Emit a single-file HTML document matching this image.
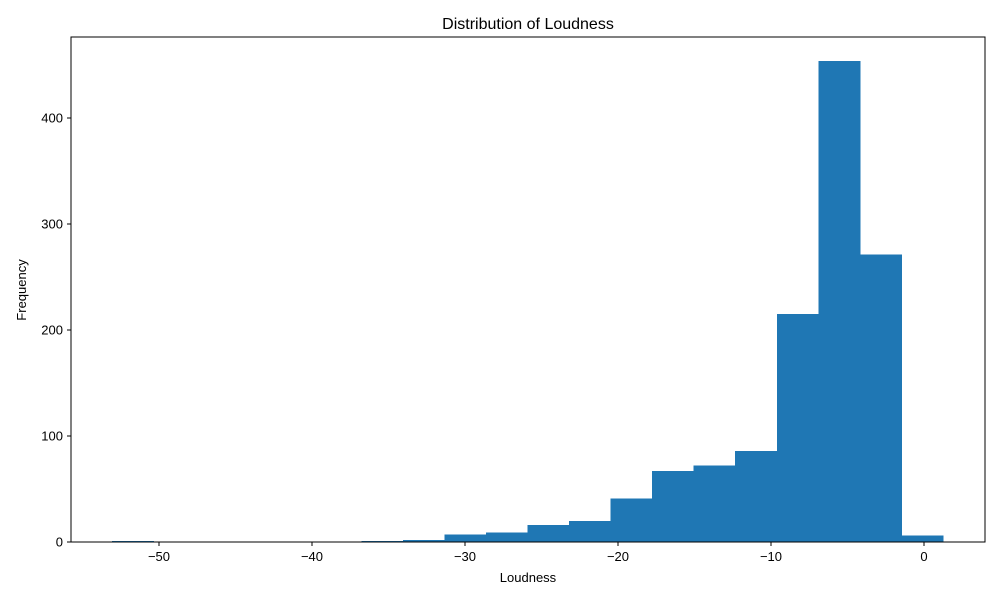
<!DOCTYPE html>
<html><head><meta charset="utf-8"><style>
body{margin:0;background:#fff;font-family:"Liberation Sans",sans-serif;}
svg text{font-family:"Liberation Sans",sans-serif;fill:#000;}
</style></head><body>
<svg id="c" width="1000" height="600">
<rect width="1000" height="600" fill="#fff"/>
<text x="528" y="29" font-size="16" text-anchor="middle">Distribution of Loudness</text>
<g id="bars" shape-rendering="crispEdges"></g>
<rect x="71" y="37" width="914" height="505" fill="none" stroke="#000" stroke-width="1"/>
<g id="xt"></g><g id="yt"></g>
<text x="528" y="582" font-size="13" text-anchor="middle">Loudness</text>
<text x="26" y="290" font-size="13" text-anchor="middle" transform="rotate(-90 26 290)">Frequency</text>
</svg>
<script>
const binStart = -53.07;
const binWidth = 2.7155;
const counts = [1,0,0,0,0,0,1,2,7,9,16,20,41,67,72,86,215,454,271,6];
const xTicks = [-50,-40,-30,-20,-10,0];
const yTicks = [0,100,200,300,400];
const NS="http://www.w3.org/2000/svg";
function xs(v){return 924+(v)*15.3;}
function ys(v){return 542-v*1.06;}
const bars=document.getElementById('bars');
counts.forEach((c,i)=>{
  if(c<=0)return;
  const x0=xs(binStart+i*binWidth), x1=xs(binStart+(i+1)*binWidth);
  const r=document.createElementNS(NS,'rect');
  r.setAttribute('x',x0);r.setAttribute('width',x1-x0+0.5);
  r.setAttribute('y',ys(c));r.setAttribute('height',542-ys(c));
  r.setAttribute('fill','#1f77b4');
  
  
  bars.appendChild(r);
});
const xt=document.getElementById('xt');
xTicks.forEach(t=>{
  const x=xs(t);
  const l=document.createElementNS(NS,'line');
  l.setAttribute('x1',x);l.setAttribute('x2',x);l.setAttribute('y1',542);l.setAttribute('y2',546);l.setAttribute('stroke','#000');
  
  
  xt.appendChild(l);
  const tx=document.createElementNS(NS,'text');
  tx.setAttribute('x',x);tx.setAttribute('y',561);tx.setAttribute('font-size','13');tx.setAttribute('text-anchor','middle');
  tx.textContent=(t<0?'\u2212'+(-t):t);
  
  
  xt.appendChild(tx);
});
const yt=document.getElementById('yt');
yTicks.forEach(t=>{
  const y=ys(t);
  const l=document.createElementNS(NS,'line');
  l.setAttribute('x1',67);l.setAttribute('x2',71);l.setAttribute('y1',y);l.setAttribute('y2',y);l.setAttribute('stroke','#000');
  
  
  yt.appendChild(l);
  const tx=document.createElementNS(NS,'text');
  tx.setAttribute('x',63);tx.setAttribute('y',y+4.5);tx.setAttribute('font-size','13');tx.setAttribute('text-anchor','end');
  tx.textContent=t;
  
  
  yt.appendChild(tx);
});
</script>
</body></html>
